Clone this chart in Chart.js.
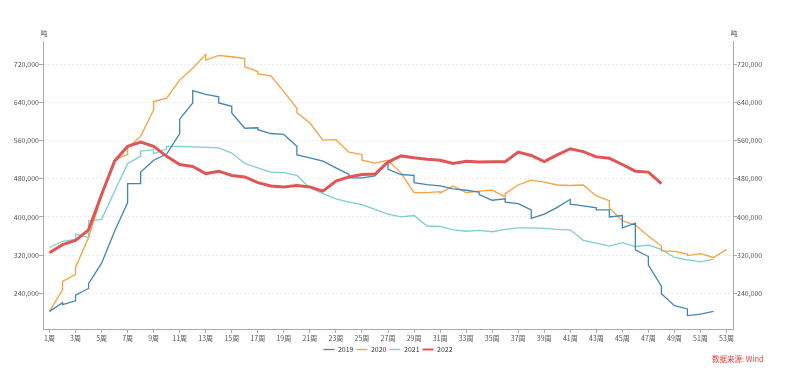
<!DOCTYPE html>
<html>
<head>
<meta charset="utf-8">
<script src="https://cdn.jsdelivr.net/npm/chart.js@4.4.0/dist/chart.umd.min.js"></script>
<style>
  body { margin: 0; background: #fff; }
  #wrap { position: relative; width: 793px; height: 370px; font-family: "Noto Sans CJK SC", "Noto Sans", sans-serif; }
  .unit { position: absolute; top: 28px; font-size: 7px; color: #555; width: 20px; text-align: center; }
  #src { position: absolute; left: 712px; top: 353px; font-size: 7.5px; color: #e03c3c; }
</style>
</head>
<body>
<div id="wrap">
  <canvas id="chart" width="793" height="370"></canvas>
  <div class="unit" style="left:34px">吨</div>
  <div class="unit" style="left:724px">吨</div>
  <div id="src">数据来源: Wind</div>
</div>
<script>
// weeks 1..53, labels every other week
const weeks = Array.from({length: 53}, (_, i) => i + 1);
const weekTicks = weeks.filter(w => w % 2 === 1);
const yTicks = [240000, 320000, 400000, 480000, 560000, 640000, 720000];

// a pair [before, after] means a jump inside the same week
const y2019 = [202000, [220000, 216000], [224000, 236000], [250000, 260000], 303000, 370000,
  [430000, 470000], [470000, 494000], 519000, 532000, [575000, 605000], [639000, 665000], 657000,
  [652000, 639000], [632000, 618000], 586000, [587000, 583000], 575000, 573000, [548000, 530000],
  524000, 517000, 503000, [489000, 482000], 482000, 486000, [515000, 500000], 489000,
  [487000, 472000], 468000, 465000, 459000, 456000, [452000, 447000], 435000, [438000, 431000],
  428000, [415000, 397000], 406000, 420000, [437000, 427000], 423000, [419000, 415000],
  [415000, 400000], [403000, 377000], [387000, 331000], [317000, 299000], [255000, 239000],
  214000, [207000, 193000], 196000, 202000];

const y2020 = [202000, [247000, 265000], [279000, 294000], 357000, 444000, 520000,
  [531000, 545000], 569000, [625000, 642000], 649000, 687000, 712000, [741000, 729000], 739000,
  736000, [732000, 715000], [705000, 700000], 696000, 663000, [628000, 619000], 597000, 561000,
  562000, 536000, [531000, 519000], 513000, 519000, 492000, 451000, 451000, [453000, 450000],
  465000, 451000, 454000, 456000, [442000, 449000], 467000, 477000, 473000, 467000, 466000,
  467000, 444000, [434000, 419000], 392000, 383000, 360000, [339000, 329000], 328000,
  [322000, 319000], 323000, 315000, 332000];

const y2021 = [336000, 349000, [353000, 364000], [357000, 392000], 395000, 454000, 512000,
  [527000, 538000], [541000, 533000], [543000, 548000], 548000, 547000, 546000, 545000, 534000,
  512000, 503000, 494000, 493000, 487000, 461000, 449000, 438000, 431000, 426000, 416000,
  406000, 400000, 403000, 381000, 380000, 373000, 370000, 372000, 369000, 374000, 377000,
  377000, 376000, 374000, 373000, 351000, 345000, 339000, 346000, 338000, 341000, 332000,
  315000, 310000, 306000, 311000];

const y2022 = [325000, 342000, 351000, 373000, 447000, 517000, 548000, 557000, 548000, 527000,
  510000, 506000, 491000, 496000, 487000, 484000, 472000, 465000, 463000, 466000, 463000,
  454000, 475000, 484000, 489000, 490000, 515000, 528000, 524000, 521000, 519000, 512000,
  517000, 515000, 516000, 516000, 536000, 529000, 516000, 530000, 543000, 537000, 526000,
  523000, 510000, 496000, 494000, 470000];

const seriesNames = ['2019', '2020', '2021', '2022'];
const colors = ['#3f86b4', '#f7a141', '#7ccfcf', '#e05656'];

function toPoints(vals) {
  const pts = [];
  vals.forEach((v, i) => {
    if (Array.isArray(v)) v.forEach(y => pts.push({x: weeks[i], y: y}));
    else pts.push({x: weeks[i], y: v});
  });
  return pts;
}

const font = {family: '"Noto Sans CJK SC", "Noto Sans", sans-serif', size: 7};

const yScale = (pos, width) => ({
  position: pos,
  min: 165000,
  max: 769000,
  afterBuildTicks: s => { s.ticks = yTicks.map(v => ({value: v})); },
  afterFit: s => { s.width = width; },
  ticks: { font: font, color: '#555', padding: 0, callback: v => v.toLocaleString('en-US') },
  grid: { color: '#ececec', drawOnChartArea: pos === 'left', tickLength: 4, tickColor: '#aaa' },
  border: { color: '#aaa', dash: [2, 2] }
});

new Chart(document.getElementById('chart'), {
  type: 'line',
  data: {
    datasets: [
      { label: seriesNames[0], data: toPoints(y2019), borderColor: colors[0], backgroundColor: colors[0], borderWidth: 1.3 },
      { label: seriesNames[1], data: toPoints(y2020), borderColor: colors[1], backgroundColor: colors[1], borderWidth: 1.3 },
      { label: seriesNames[2], data: toPoints(y2021), borderColor: colors[2], backgroundColor: colors[2], borderWidth: 1.3 },
      { label: seriesNames[3], data: toPoints(y2022), borderColor: colors[3], backgroundColor: colors[3], borderWidth: 3, order: -1 }
    ]
  },
  options: {
    responsive: false,
    animation: false,
    elements: { point: { radius: 0 }, line: { tension: 0 } },
    layout: { padding: { top: 41, bottom: 7, left: 0, right: 0 } },
    scales: {
      x: {
        type: 'linear',
        min: 0.5,
        max: 53.5,
        afterBuildTicks: s => { s.ticks = weekTicks.map(v => ({value: v})); },
        afterFit: s => { s.height = 14; },
        ticks: { font: font, color: '#555', padding: 1, maxRotation: 0, autoSkip: false, callback: v => v + '周' },
        grid: { drawOnChartArea: false, tickLength: 4, tickColor: '#aaa' },
        border: { color: '#aaa' }
      },
      y: yScale('left', 43),
      y1: yScale('right', 60)
    },
    plugins: {
      tooltip: { enabled: false },
      legend: {
        position: 'bottom',
        fullSize: false,
        labels: {
          font: font,
          color: '#333',
          usePointStyle: true,
          pointStyle: 'line',
          pointStyleWidth: 11,
          padding: 3,
          sort: (a, b) => a.datasetIndex - b.datasetIndex,
          generateLabels: chart => Chart.defaults.plugins.legend.labels.generateLabels(chart)
            .map(item => Object.assign(item, {lineWidth: Math.min(item.lineWidth, 2)}))
        }
      }
    }
  }
});
</script>
</body>
</html>
